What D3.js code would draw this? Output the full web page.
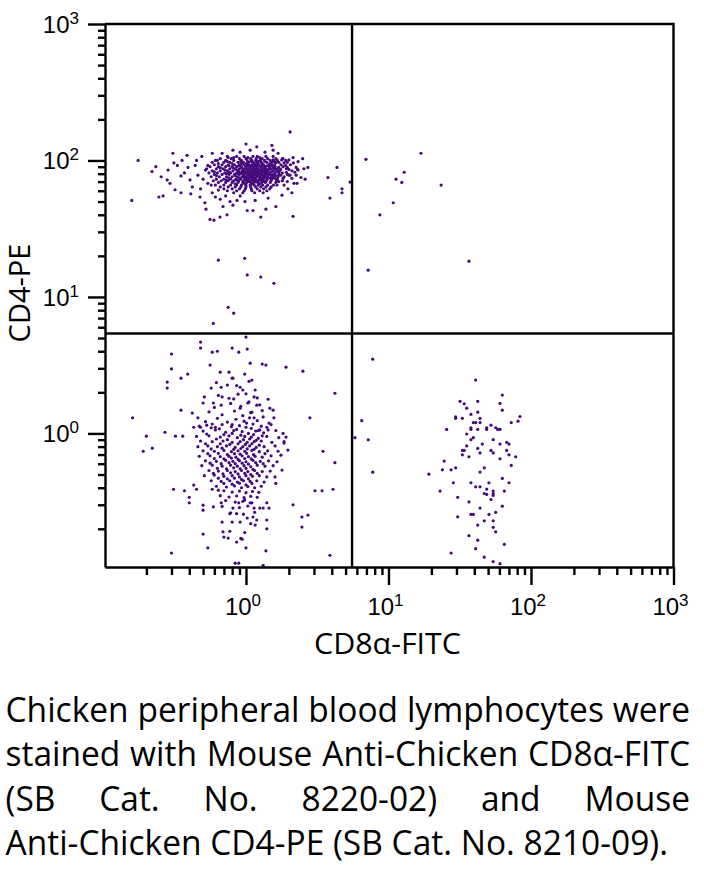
<!DOCTYPE html>
<html>
<head>
<meta charset="utf-8">
<script src="https://cdn.jsdelivr.net/npm/d3@7"></script>
<style>
  html, body { margin: 0; padding: 0; background: #ffffff; }
  svg { display: block; }
</style>
</head>
<body>
<svg id="chart" width="704" height="869"></svg>
<script>
// ---------------- DATA ----------------
// CD4+ population (upper-left), dense core given as rows: [CD4-PE value, [CD8a-FITC values]]
const cd4CoreRows = [
  [107, [0.74, 0.86, 0.97, 1.12, 1.2, 1.38, 1.55]],
  [105, [0.82, 1.03, 1.25]],
  [103, [0.66, 0.79, 0.9, 1.0, 1.08, 1.18, 1.3, 1.42, 1.62, 1.8]],
  [101, [1.55, 1.78, 2.0]],
  [100, [0.63, 0.72, 0.82, 0.93, 1.02, 1.1, 1.17, 1.26, 1.35, 1.48, 1.66, 1.9]],
  [98.5, [0.74, 0.92, 1.08, 1.22, 1.36, 1.58]],
  [97, [0.58, 0.7, 0.77, 0.88, 0.96, 1.04, 1.12, 1.19, 1.28, 1.4, 1.52, 1.7, 1.95]],
  [96, [1.62, 1.85, 2.15]],
  [95, [0.64, 0.8, 0.93, 1.01, 1.14, 1.21, 1.3, 1.48]],
  [93, [0.6, 0.68, 0.75, 0.83, 0.9, 0.97, 1.05, 1.1, 1.16, 1.23, 1.33, 1.45, 1.58, 1.76, 2.05]],
  [92, [1.02, 1.18, 1.3, 1.52]],
  [91.5, [0.76, 0.89, 0.99, 1.09, 1.17, 1.25, 1.41]],
  [90, [0.56, 0.64, 0.72, 0.8, 0.86, 0.93, 1.0, 1.06, 1.13, 1.2, 1.27, 1.36, 1.46, 1.6, 1.82]],
  [89, [1.7, 1.95, 2.25]],
  [88.5, [0.66, 0.81, 0.93, 1.0, 1.12, 1.19, 1.34, 1.55]],
  [87, [0.53, 0.62, 0.69, 0.77, 0.84, 0.9, 0.96, 1.03, 1.09, 1.15, 1.22, 1.3, 1.39, 1.5, 1.66, 1.92]],
  [86, [1.08, 1.21, 1.45, 1.6, 1.75, 2.0, 2.3]],
  [85.5, [0.71, 0.86, 0.97, 1.04, 1.15, 1.27, 1.37]],
  [84, [0.58, 0.66, 0.74, 0.81, 0.88, 0.94, 1.0, 1.06, 1.12, 1.18, 1.25, 1.33, 1.42, 1.55, 1.72, 2.1]],
  [83, [0.95, 1.13, 1.28, 1.4, 1.65]],
  [82.5, [0.6, 0.76, 0.89, 1.01, 1.08, 1.19, 1.33, 1.51]],
  [82, [1.7, 1.92, 2.2]],
  [81, [0.55, 0.63, 0.71, 0.78, 0.86, 0.92, 0.98, 1.04, 1.1, 1.16, 1.22, 1.29, 1.37, 1.47, 1.6, 1.8]],
  [80, [0.73, 0.88, 0.95, 1.05, 1.17, 1.24, 1.41]],
  [79, [0.6, 0.68, 0.76, 0.83, 0.9, 0.96, 1.02, 1.08, 1.14, 1.2, 1.27, 1.35, 1.44, 1.56, 1.7, 1.95]],
  [78, [1.04, 1.16, 1.3, 1.5, 1.75, 2.0, 2.25]],
  [77.5, [0.62, 0.84, 0.97, 1.1, 1.22, 1.37, 1.62]],
  [76, [0.57, 0.65, 0.73, 0.8, 0.87, 0.94, 1.0, 1.06, 1.12, 1.19, 1.25, 1.33, 1.42, 1.53, 1.68, 1.85]],
  [75, [0.97, 1.09, 1.36, 1.58]],
  [74.5, [0.76, 0.9, 1.02, 1.15, 1.29, 1.47]],
  [74, [1.6, 1.82, 2.1]],
  [73, [0.62, 0.7, 0.78, 0.85, 0.92, 0.99, 1.05, 1.11, 1.17, 1.24, 1.32, 1.41, 1.52, 1.66]],
  [72, [0.73, 0.86, 1.0, 1.12, 1.26]],
  [71, [0.59, 0.67, 0.75, 0.82, 0.89, 0.96, 1.03, 1.09, 1.15, 1.22, 1.3, 1.39, 1.5, 1.64, 1.8]],
  [70, [1.05, 1.18, 1.34, 1.7, 1.95]],
  [69, [0.64, 0.72, 0.8, 0.88, 0.95, 1.01, 1.08, 1.14, 1.21, 1.29, 1.37, 1.48, 1.62]],
  [67.5, [0.84, 0.98, 1.11, 1.25]],
  [66, [0.61, 0.7, 0.78, 0.86, 0.93, 1.0, 1.07, 1.14, 1.22, 1.31, 1.42, 1.56, 1.65, 1.85]],
  [64, [0.66, 0.75, 0.84, 0.92, 1.0, 1.08, 1.17, 1.27, 1.38, 1.5]],
  [62, [0.7, 0.8, 0.9, 0.99, 1.09, 1.2, 1.33, 1.47]],
  [60, [0.74, 0.86, 0.97, 1.1, 1.25, 1.4]],
  [58, [0.82, 0.95, 1.15, 1.32]]
];

// CD4+ population, scattered events around the core: [CD8a-FITC, CD4-PE]
const cd4Spread = [
  [2.04, 162], [0.175, 100], [0.158, 51], [0.219, 83], [0.233, 90], [0.245, 54], [0.262, 55],
  [0.254, 76], [0.284, 85], [0.293, 68], [0.307, 113], [0.312, 96], [0.318, 61], [0.35, 58],
  [0.356, 100], [0.386, 109], [0.392, 89], [0.405, 72], [0.476, 54], [0.515, 49], [0.524, 44],
  [0.559, 37], [0.596, 36.5], [0.657, 38.5], [0.736, 40], [0.69, 46], [0.773, 50], [0.865, 51],
  [0.984, 50], [1.02, 43], [1.12, 43], [1.27, 38.5], [1.38, 44], [1.62, 46], [2.14, 39],
  [2.28, 68], [2.43, 75], [2.55, 87], [2.72, 89], [2.5, 103], [2.14, 105], [2.32, 98],
  [3.76, 75], [4.35, 89], [3.88, 53], [4.72, 62], [4.72, 58], [5.37, 69.5],
  [1.0, 132], [1.19, 126], [1.52, 129], [1.55, 119], [1.68, 113], [0.81, 119], [0.68, 113],
  [0.58, 113], [0.49, 107], [0.44, 92], [0.46, 78], [0.42, 64], [0.52, 85], [0.54, 68],
  [0.58, 58], [0.48, 62], [0.37, 81], [0.45, 100], [0.61, 54], [0.66, 52], [0.72, 55],
  [0.81, 47], [0.91, 55], [1.16, 51], [1.43, 53], [1.79, 55.7], [1.97, 62], [2.04, 78],
  [1.9, 92], [1.82, 103], [1.36, 115], [0.91, 115], [1.07, 119], [0.75, 105], [0.61, 100],
  [0.54, 92], [0.5, 73], [0.57, 66], [0.64, 60.7], [0.33, 92], [0.35, 77], [0.28, 72],
  [0.41, 57], [2.6, 73], [2.32, 85], [2.17, 68], [2.1, 58]
];

// Isolated events between populations and in the CD8+CD4+ quadrant: [CD8a-FITC, CD4-PE]
const strayEvents = [
  [0.64, 18.6], [0.98, 19.2], [1.02, 14.5], [1.27, 14.0], [1.57, 12.6], [0.75, 8.4],
  [0.82, 7.6], [0.59, 6.4],
  [6.95, 102], [11.3, 73], [12.9, 82], [12.4, 69], [16.9, 113], [23.4, 66], [8.7, 40],
  [10.8, 49], [7.2, 15.7], [36.7, 18.3]
];

// Double-negative population (lower-left), dense core: [CD8a-FITC, CD4-PE]
const dnCore = [
  [0.62, 2.36], [0.86, 2.24], [1.05, 2.41],
  [0.64, 1.9], [0.82, 1.79], [1.0, 1.95], [1.2, 1.82],
  [0.6, 1.55], [0.78, 1.66], [0.92, 1.58], [1.05, 1.7], [1.25, 1.62],
  [0.55, 1.44], [0.68, 1.37], [0.83, 1.46], [0.95, 1.35], [1.08, 1.42], [1.3, 1.47],
  [0.52, 1.22], [0.63, 1.29], [0.74, 1.21], [0.85, 1.27], [0.97, 1.23], [1.06, 1.3], [1.2, 1.24], [1.45, 1.19],
  [0.58, 1.17], [0.8, 1.16], [1.01, 1.19],
  [0.47, 1.13], [0.57, 1.1], [0.68, 1.16], [0.79, 1.12], [0.9, 1.14], [1.0, 1.11], [1.12, 1.17], [1.28, 1.13], [1.5, 1.16],
  [0.65, 1.08], [0.86, 1.07], [1.09, 1.09], [1.22, 1.05],
  [0.5, 1.04], [0.61, 1.06], [0.72, 1.02], [0.82, 1.05], [0.94, 1.03], [1.04, 1.0], [1.17, 1.04], [1.33, 1.01], [1.62, 1.05],
  [0.53, 0.99], [0.7, 0.98], [0.8, 1.0], [0.92, 0.97], [1.13, 0.98], [1.3, 0.96],
  [0.45, 0.95], [0.55, 0.96], [0.66, 0.94], [0.76, 0.96], [0.87, 0.93], [0.98, 0.95], [1.09, 0.94], [1.22, 0.92], [1.4, 0.95], [1.7, 0.93],
  [0.62, 0.91], [0.74, 0.9], [0.96, 0.9], [1.06, 0.91], [1.18, 0.89],
  [0.48, 0.88], [0.58, 0.87], [0.69, 0.88], [0.8, 0.86], [0.91, 0.87], [1.02, 0.86], [1.14, 0.87], [1.28, 0.88], [1.52, 0.86], [1.85, 0.87],
  [0.52, 0.84], [0.66, 0.84], [0.77, 0.83], [0.88, 0.84], [0.99, 0.83], [1.1, 0.84], [1.24, 0.82],
  [0.46, 0.8], [0.54, 0.81], [0.63, 0.8], [0.73, 0.81], [0.84, 0.79], [0.95, 0.8], [1.06, 0.81], [1.18, 0.79], [1.34, 0.8], [1.6, 0.81],
  [0.57, 0.77], [0.68, 0.78], [0.82, 0.765], [0.92, 0.775], [1.02, 0.77], [1.14, 0.765],
  [0.5, 0.745], [0.6, 0.74], [0.7, 0.75], [0.79, 0.735], [0.88, 0.745], [0.98, 0.74], [1.1, 0.75], [1.24, 0.735], [1.42, 0.745], [1.68, 0.74],
  [0.54, 0.71], [0.64, 0.715], [0.74, 0.7], [0.83, 0.71], [0.91, 0.705], [1.01, 0.715], [1.13, 0.7], [1.36, 0.71],
  [0.47, 0.68], [0.56, 0.685], [0.66, 0.675], [0.76, 0.68], [0.85, 0.67], [0.94, 0.685], [1.04, 0.675], [1.16, 0.68], [1.3, 0.67], [1.5, 0.685],
  [0.6, 0.655], [0.7, 0.65], [0.79, 0.66], [0.88, 0.645], [0.98, 0.655], [1.09, 0.65],
  [0.52, 0.63], [0.62, 0.625], [0.72, 0.635], [0.81, 0.625], [0.9, 0.63], [1.0, 0.62], [1.12, 0.635], [1.26, 0.625], [1.44, 0.63], [1.65, 0.62],
  [0.56, 0.605], [0.67, 0.6], [0.76, 0.61], [0.84, 0.6], [0.94, 0.605], [1.04, 0.595], [1.17, 0.61], [1.32, 0.6],
  [0.49, 0.58], [0.58, 0.585], [0.68, 0.575], [0.78, 0.585], [0.87, 0.575], [0.97, 0.58], [1.08, 0.57], [1.2, 0.585], [1.36, 0.575], [1.55, 0.58],
  [0.63, 0.555], [0.73, 0.55], [0.82, 0.56], [0.91, 0.55], [1.0, 0.555], [1.12, 0.545],
  [0.55, 0.535], [0.64, 0.53], [0.74, 0.535], [0.84, 0.525], [0.93, 0.535], [1.03, 0.525], [1.15, 0.535], [1.3, 0.525], [1.48, 0.53],
  [0.59, 0.51], [0.69, 0.505], [0.78, 0.515], [0.88, 0.505], [0.98, 0.51], [1.08, 0.5], [1.2, 0.51],
  [0.51, 0.49], [0.6, 0.495], [0.7, 0.485], [0.8, 0.49], [0.9, 0.48], [1.0, 0.49], [1.11, 0.485], [1.24, 0.49], [1.4, 0.48],
  [0.64, 0.47], [0.74, 0.465], [0.83, 0.47], [0.93, 0.46], [1.04, 0.465],
  [0.57, 0.45], [0.67, 0.445], [0.77, 0.45], [0.87, 0.44], [0.96, 0.45], [1.07, 0.445], [1.19, 0.45], [1.34, 0.44],
  [0.7, 0.43], [0.8, 0.425], [0.9, 0.432], [1.0, 0.42], [1.1, 0.43],
  [0.62, 0.41], [0.73, 0.405], [0.83, 0.412], [0.93, 0.4], [1.03, 0.408], [1.15, 0.4], [1.28, 0.41],
  [0.7, 0.38], [0.8, 0.372], [0.9, 0.378], [1.0, 0.368], [1.11, 0.376], [1.23, 0.37],
  [0.66, 0.35], [0.76, 0.342], [0.86, 0.348], [0.97, 0.338], [1.08, 0.346], [1.2, 0.34],
  [0.72, 0.322], [0.84, 0.314], [0.95, 0.318], [1.1, 0.31],
  [0.68, 0.292], [0.9, 0.286], [1.03, 0.294], [1.25, 0.284],
  [0.78, 0.262], [0.96, 0.256], [1.15, 0.264],
  [0.8, 0.224], [1.08, 0.218], [0.77, 0.192], [0.98, 0.188], [0.92, 0.17]
];

// Double-negative population, scattered events: [CD8a-FITC, CD4-PE]
const dnSpread = [
  [1.0, 5.08], [0.48, 4.67], [0.48, 4.22], [0.58, 3.94], [0.63, 4.0], [0.8, 4.22], [0.89, 3.94],
  [1.02, 4.15], [0.3, 3.82], [0.3, 2.97], [0.56, 3.17], [1.07, 3.27], [1.3, 3.22], [1.38, 3.17],
  [1.91, 3.06], [2.51, 2.86], [0.28, 2.38], [0.28, 2.15], [0.35, 2.54], [0.39, 2.72], [0.66, 2.81],
  [0.76, 2.81], [0.98, 2.72], [0.8, 2.54], [4.21, 1.97], [0.16, 1.3], [0.2, 0.955], [0.19, 0.74],
  [0.22, 0.78], [0.27, 1.02], [0.32, 0.955], [0.36, 0.955], [0.35, 1.48], [0.42, 1.41], [2.81, 1.3],
  [3.47, 0.74], [4.21, 0.61], [0.31, 0.39], [0.37, 0.38], [0.4, 0.34], [0.4, 0.31], [0.45, 0.39],
  [3.05, 0.38], [3.42, 0.38], [4.08, 0.39], [2.14, 0.3], [2.47, 0.244], [2.72, 0.252], [2.47, 0.206],
  [0.5, 0.183], [0.54, 0.145], [0.3, 0.133], [3.88, 0.128], [0.7, 0.174], [0.75, 0.171], [0.86, 0.16],
  [0.94, 0.168], [1.0, 0.145], [1.38, 0.138], [0.84, 0.112], [0.89, 0.112], [1.32, 0.108],
  [0.59, 0.29], [0.68, 0.224], [0.69, 0.19], [0.91, 0.224], [1.02, 0.24], [1.12, 0.244], [1.19, 0.232],
  [1.16, 0.213], [1.4, 0.232], [1.4, 0.2], [1.4, 0.31], [1.45, 0.284], [1.32, 0.284], [1.14, 0.284],
  [1.07, 0.31], [0.98, 0.325], [0.89, 0.31], [0.81, 0.284], [0.86, 0.258], [0.77, 0.258], [0.67, 0.31],
  [0.64, 0.384], [0.58, 0.39], [0.5, 0.298], [0.5, 0.274], [0.43, 0.418], [1.62, 0.43], [1.6, 0.48],
  [1.79, 0.539], [1.76, 0.693], [1.97, 0.755], [1.85, 0.85], [1.91, 0.94], [1.82, 1.0], [1.57, 1.3],
  [1.55, 1.48], [1.43, 1.78], [1.47, 1.53], [1.19, 1.61], [1.14, 1.85], [1.16, 2.08], [1.1, 2.46],
  [0.95, 2.08], [0.91, 2.18], [0.88, 1.94], [0.76, 1.81], [0.68, 1.85], [0.67, 1.61], [0.59, 1.67],
  [0.5, 1.67], [0.51, 1.85], [0.57, 2.15], [0.67, 2.18], [0.74, 2.26], [0.81, 2.54], [0.91, 1.53],
  [1.1, 1.43], [1.03, 1.67], [1.32, 1.32], [1.14, 1.3], [1.4, 1.11], [1.43, 1.06], [1.25, 1.06],
  [0.46, 1.3], [0.43, 1.11], [0.48, 1.11], [0.53, 1.15], [0.61, 1.11]
];

// CD8+ population (lower-right): [CD8a-FITC, CD4-PE]
const cd8Cells = [
  [7.75, 3.5], [6.49, 1.24], [5.82, 0.93], [7.21, 0.898], [7.75, 0.52],
  [40.9, 2.46], [62.9, 1.91], [60.6, 1.66], [62.9, 1.48], [31.8, 1.72], [34.0, 1.65], [35.4, 1.53],
  [42.3, 1.72], [42.3, 1.43], [37.9, 1.38], [29.6, 1.32], [29.6, 1.29], [33.0, 1.29], [43.9, 1.29],
  [39.4, 1.2], [40.9, 1.2], [43.9, 1.2], [83.7, 1.33], [81.1, 1.23], [72.7, 1.2], [25.6, 1.07],
  [37.9, 1.1], [37.9, 1.07], [42.3, 1.07], [48.9, 1.1], [48.9, 1.07], [52.4, 1.15], [56.5, 1.1],
  [58.4, 1.07], [60.6, 1.07], [35.4, 0.99], [39.4, 0.93], [37.9, 0.9], [54.3, 0.9], [45.5, 0.835],
  [60.6, 0.835], [67.5, 0.86], [70.1, 0.835], [35.4, 0.81], [42.3, 0.776], [33.0, 0.75], [34.0, 0.75],
  [52.4, 0.75], [54.3, 0.72], [67.5, 0.75], [33.0, 0.697], [36.7, 0.674], [43.9, 0.72], [70.1, 0.697],
  [78.1, 0.674], [60.6, 0.652], [24.6, 0.627], [72.7, 0.583], [47.0, 0.56], [29.6, 0.56], [23.9, 0.541],
  [27.5, 0.541], [43.9, 0.521], [19.2, 0.503], [62.9, 0.468], [28.5, 0.435], [37.9, 0.435], [50.7, 0.435],
  [70.1, 0.435], [40.9, 0.406], [43.9, 0.406], [48.9, 0.391], [23.0, 0.378], [47.0, 0.363], [48.9, 0.357],
  [54.3, 0.378], [54.3, 0.363], [54.3, 0.351], [52.4, 0.328], [65.0, 0.378], [30.6, 0.34], [36.7, 0.315],
  [62.9, 0.293], [43.9, 0.284], [37.9, 0.255], [39.4, 0.255], [50.7, 0.255], [56.5, 0.264], [30.6, 0.245],
  [47.0, 0.229], [54.3, 0.229], [42.3, 0.213], [54.3, 0.205], [56.5, 0.19], [36.7, 0.178], [42.3, 0.165],
  [65.0, 0.154], [40.9, 0.143], [27.5, 0.133], [47.0, 0.124], [54.3, 0.115], [60.6, 0.111]
];

// Quadrant gates
const cd8Gate = 5.55;
const cd4Gate = 5.4;

// Axes
const xDomain = [0.1025, 1000];
const yDomain = [0.105, 1000];
const majorTicks = [1, 10, 100, 1000];
const majorExponents = ["0", "1", "2", "3"];
const xTitle = "CD8α-FITC";
const yTitle = "CD4-PE";

const captionLines = [
  "Chicken peripheral blood lymphocytes were",
  "stained with Mouse Anti-Chicken CD8α-FITC",
  "(SB Cat. No. 8220-02) and Mouse",
  "Anti-Chicken CD4-PE (SB Cat. No. 8210-09)."
];
const captionJustified = [true, true, true, false];

// ---------------- DRAWING ----------------
const svg = d3.select("#chart");
const plot = { left: 105, right: 673.5, top: 24, bottom: 567 };
const dotColor = "#450a7b";
const lineW = 2.4;

const x = d3.scaleLog().domain(xDomain).range([plot.left, plot.right]);
const y = d3.scaleLog().domain(yDomain).range([plot.bottom, plot.top]);

const rowsToPairs = rows => rows.flatMap(([yv, xs]) => xs.map(xv => [xv, yv]));
const events = [].concat(
  rowsToPairs(cd4CoreRows), cd4Spread, strayEvents,
  dnCore, dnSpread, cd8Cells
);

svg.append("g")
  .selectAll("circle")
  .data(events)
  .join("circle")
  .attr("cx", d => x(d[0]))
  .attr("cy", d => y(d[1]))
  .attr("r", 1.6)
  .attr("fill", dotColor);

// Quadrant lines
svg.append("line")
  .attr("x1", x(cd8Gate)).attr("x2", x(cd8Gate))
  .attr("y1", plot.top).attr("y2", plot.bottom)
  .attr("stroke", "#000").attr("stroke-width", lineW);
svg.append("line")
  .attr("x1", plot.left).attr("x2", plot.right)
  .attr("y1", y(cd4Gate)).attr("y2", y(cd4Gate))
  .attr("stroke", "#000").attr("stroke-width", lineW);

const isMajor = v => Math.abs(Math.log10(v) - Math.round(Math.log10(v))) < 1e-9;

// X axis
const gx = svg.append("g")
  .attr("transform", `translate(0,${plot.bottom})`)
  .call(d3.axisBottom(x).tickValues(x.ticks()).tickSizeInner(8).tickSizeOuter(0).tickFormat(() => ""));
gx.select(".domain").attr("stroke", "#000").attr("stroke-width", lineW);
gx.selectAll(".tick line").attr("stroke", "#000").attr("stroke-width", lineW)
  .attr("y2", d => isMajor(d) ? 18 : 8);

// Y axis
const gy = svg.append("g")
  .attr("transform", `translate(${plot.left},0)`)
  .call(d3.axisLeft(y).tickValues(y.ticks()).tickSizeInner(7).tickSizeOuter(0).tickFormat(() => ""));
gy.select(".domain").attr("stroke", "#000").attr("stroke-width", lineW);
gy.selectAll(".tick line").attr("stroke", "#000").attr("stroke-width", lineW)
  .attr("x2", d => isMajor(d) ? -17 : -7);

// Frame (top and right)
svg.append("path")
  .attr("d", `M${plot.left},${plot.top}H${plot.right}V${plot.bottom}`)
  .attr("fill", "none").attr("stroke", "#000").attr("stroke-width", lineW);

// Tick labels (10 with superscript exponent)
const tickFont = "'Liberation Sans Narrow', 'Arial Narrow', 'Liberation Sans', Arial, sans-serif";
function powerLabel(g, i, anchor) {
  const t = g.append("text")
    .attr("font-family", tickFont)
    .attr("font-size", 24)
    .attr("fill", "#000")
    .attr("text-anchor", anchor);
  t.append("tspan").text("10");
  t.append("tspan").attr("font-size", 17).attr("dy", -9).text(majorExponents[i]);
  return t;
}
majorTicks.forEach((v, i) => {
  powerLabel(svg, i, "end").attr("x", 79).attr("y", y(v) + 9);
  powerLabel(svg, i, "middle").attr("x", x(v) - 3).attr("y", 614.5);
});

// Axis titles
const titleFont = "'Open Sans', 'Noto Sans', sans-serif";
svg.append("text")
  .attr("x", 387.5).attr("y", 654)
  .attr("text-anchor", "middle")
  .attr("font-family", titleFont).attr("font-size", 29)
  .attr("textLength", 147).attr("lengthAdjust", "spacingAndGlyphs")
  .attr("fill", "#000")
  .text(xTitle);
svg.append("text")
  .attr("transform", "translate(30,293) rotate(-90)")
  .attr("text-anchor", "middle")
  .attr("font-family", titleFont).attr("font-size", 29)
  .attr("fill", "#000")
  .text(yTitle);

// Caption, justified
const capFont = 35, capLeft = 5.5, capRight = 690;
const capBaselines = [721.5, 766, 810.5, 855];
const capG = svg.append("g")
  .attr("font-family", titleFont).attr("font-size", capFont).attr("fill", "#000");
const measured = captionLines.map(line => line.split(" ").map(w => {
  const t = capG.append("text").attr("x", -1000).attr("y", -1000).text(w);
  const wd = t.node().getComputedTextLength();
  t.remove();
  return { w, wd };
}));
const spaceProbe = capG.append("text").attr("x", -1000).attr("y", -1000).text("a a");
const aProbe = capG.append("text").attr("x", -1000).attr("y", -1000).text("aa");
const spaceW = spaceProbe.node().getComputedTextLength() - aProbe.node().getComputedTextLength();
spaceProbe.remove(); aProbe.remove();
const last = measured[measured.length - 1];
const lastNatural = d3.sum(last, d => d.wd) + spaceW * (last.length - 1);
const squeeze = (668 - capLeft) / lastNatural;

measured.forEach((words, li) => {
  const widths = words.map(d => d.wd * squeeze);
  const total = d3.sum(widths);
  const gap = captionJustified[li]
    ? (capRight - capLeft - total) / (words.length - 1)
    : spaceW * squeeze;
  let cx = capLeft;
  words.forEach((d, wi) => {
    capG.append("text")
      .attr("x", cx).attr("y", capBaselines[li])
      .attr("textLength", widths[wi]).attr("lengthAdjust", "spacingAndGlyphs")
      .text(d.w);
    cx += widths[wi] + gap;
  });
});
</script>
</body>
</html>
